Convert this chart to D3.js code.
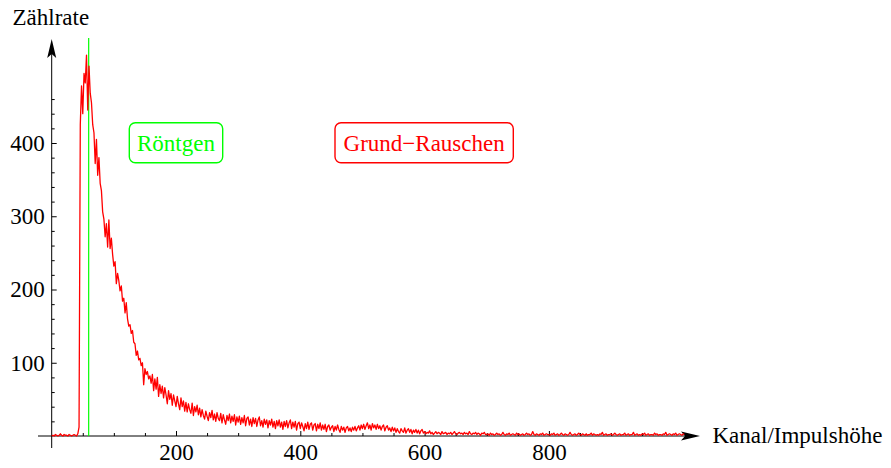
<!DOCTYPE html>
<html>
<head>
<meta charset="utf-8">
<script src="https://cdn.jsdelivr.net/npm/d3@7"></script>
<style>
  body { margin: 0; background: #fff; }
  svg { display: block; font-family: "Liberation Serif", "Times New Roman", serif; }
  .tick text { font-size: 23px; fill: #000; }
</style>
</head>
<body>
<svg width="891" height="468"></svg>
<script>
// Zählrate pro Kanal, jeder Wert steht für 2 Kanäle (0, 2, 4, ...)
var kanalSchritt = 2;
var zaehlrate = [
  0, 1, 0, 2, 1, 0, 1, 3, 1, 0,            // 0
  2, 1, 1, 0, 2, 1, 0, 1, 2, 1,            // 20
  0, 3, 12, 425, 478, 440, 495, 482, 520, 445, // 40
  505, 468, 455, 425, 414, 372, 405, 356, 380, 345, // 60
  335, 306, 296, 272, 290, 258, 295, 256, 270, 248, // 80
  232, 238, 208, 222, 212, 198, 205, 184, 188, 168, // 100
  182, 160, 150, 152, 140, 144, 128, 126, 110, 116, // 120
  104, 106, 96, 100, 70, 92, 84, 88, 78, 82,     // 140
  72, 84, 62, 78, 64, 80, 54, 70, 58, 68,        // 160
  52, 66, 56, 44, 62, 50, 58, 42, 56, 48,        // 180
  40, 54, 44, 36, 52, 40, 48, 34, 46, 33,        // 200
  44, 36, 31, 45, 28, 40, 33, 42, 29, 38,        // 220
  26, 36, 28, 23, 34, 27, 21, 32, 25, 35,        // 240
  22, 30, 20, 32, 24, 21, 31, 18, 29, 22,        // 260
  16, 28, 21, 30, 18, 27, 20, 29, 15, 26,        // 280
  19, 27, 16, 25, 18, 28, 14, 24, 26, 15,        // 300
  23, 13, 25, 17, 24, 13, 22, 26, 14, 21,        // 320
  12, 23, 16, 22, 11, 21, 15, 23, 12, 20,        // 340
  10, 21, 14, 22, 12, 19, 9, 20, 13, 21,         // 360
  11, 18, 22, 10, 19, 12, 20, 8, 17, 19,         // 380
  10, 18, 13, 7, 17, 10, 19, 9, 16, 18,          // 400
  8, 15, 17, 7, 16, 10, 18, 8, 15, 9,            // 420
  16, 6, 13, 15, 8, 12, 14, 6, 13, 8,            // 440
  15, 9, 5, 13, 8, 12, 5, 11, 13, 7,             // 460
  11, 6, 12, 8, 13, 7, 11, 14, 8, 15,            // 480
  10, 16, 9, 14, 18, 10, 15, 8, 17, 11,          // 500
  15, 9, 16, 10, 14, 8, 13, 15, 7, 12,           // 520
  14, 8, 11, 6, 12, 7, 11, 5, 10, 6,             // 540
  4, 10, 7, 5, 11, 4, 8, 10, 5, 9,               // 560
  3, 8, 5, 9, 4, 8, 3, 7, 9, 4,                  // 580
  6, 3, 5, 4, 7, 3, 5, 2, 4, 6,                  // 600
  3, 5, 4, 2, 6, 3, 4, 5, 2, 4,                  // 620
  3, 5, 2, 4, 6, 3, 2, 4, 5, 3,                  // 640
  4, 2, 5, 3, 4, 2, 6, 3, 2, 4,                  // 660
  3, 5, 2, 4, 3, 1, 4, 3, 5, 2,                  // 680
  2, 3, 1, 4, 2, 3, 1, 2, 4, 2,                  // 700
  3, 1, 2, 5, 2, 1, 3, 2, 4, 1,                  // 720
  2, 3, 2, 1, 4, 2, 3, 1, 2, 3,                  // 740
  1, 2, 4, 2, 3, 1, 2, 6, 2, 1,                  // 760
  3, 2, 1, 3, 2, 4, 1, 2, 3, 2,                  // 780
  2, 1, 3, 2, 4, 1, 2, 3, 1, 2,                  // 800
  4, 2, 1, 3, 2, 1, 2, 5, 2, 1,                  // 820
  2, 3, 1, 2, 4, 2, 1, 3, 2, 1,                  // 840
  3, 1, 2, 2, 4, 1, 3, 2, 1, 2,                  // 860
  1, 3, 2, 5, 1, 2, 3, 1, 2, 2,                  // 880
  3, 1, 2, 4, 2, 1, 2, 3, 1, 2,                  // 900
  2, 4, 1, 2, 3, 1, 2, 2, 5, 1,                  // 920
  2, 3, 1, 2, 1, 3, 2, 4, 1, 2,                  // 940
  3, 1, 2, 2, 1, 4, 2, 3, 1, 2,                  // 960
  2, 1, 3, 2, 5, 1, 2, 3, 2, 1,                  // 980
  3, 2, 4, 1, 2, 3, 2, 1, 3, 2                   // 1000
];

var roentgenKanal = 59.5;
var xTicks = [200, 400, 600, 800];
var xMinor = [50, 100, 150, 250, 300, 350, 450, 500, 550, 650, 700, 750, 850, 900, 950];
var yTicks = [100, 200, 300, 400];
var yMinor = [20, 40, 60, 80, 120, 140, 160, 180, 220, 240, 260, 280, 320, 340, 360, 380, 420, 440, 460];

var svg = d3.select("svg");

var x = d3.scaleLinear().domain([0, 1000]).range([51.7, 673.2]),
  y = d3.scaleLinear().domain([0, 400]).range([436, 143]);

var daten = zaehlrate.map(function (d, i) {
  return { kanal: i * kanalSchritt, wert: d };
});

// Achsenlinien mit Pfeilspitzen
svg.append("line")
  .attr("x1", 38).attr("x2", 690)
  .attr("y1", y(0)).attr("y2", y(0))
  .attr("stroke", "#000").attr("stroke-width", 1);
svg.append("line")
  .attr("x1", x(0)).attr("x2", x(0))
  .attr("y1", 448).attr("y2", 50)
  .attr("stroke", "#000").attr("stroke-width", 1);

svg.append("path")
  .attr("d", "M700," + y(0) + " L681,431.5 L685," + y(0) + " L681,440.5 Z")
  .attr("fill", "#000");
svg.append("path")
  .attr("d", "M" + x(0) + ",39 L" + (x(0) - 4.5) + ",58 L" + x(0) + ",54 L" + (x(0) + 4.5) + ",58 Z")
  .attr("fill", "#000");

// Ticks
var gx = svg.append("g")
  .attr("transform", "translate(0," + y(0) + ")")
  .call(d3.axisBottom(x).tickValues(xTicks).tickSizeInner(-5).tickSizeOuter(0).tickPadding(8));
var gxm = svg.append("g")
  .attr("transform", "translate(0," + y(0) + ")")
  .call(d3.axisBottom(x).tickValues(xMinor).tickSizeInner(-3).tickSizeOuter(0).tickFormat(""));
var gy = svg.append("g")
  .attr("transform", "translate(" + x(0) + ",0)")
  .call(d3.axisLeft(y).tickValues(yTicks).tickSizeInner(-5).tickSizeOuter(0).tickPadding(7));
var gym = svg.append("g")
  .attr("transform", "translate(" + x(0) + ",0)")
  .call(d3.axisLeft(y).tickValues(yMinor).tickSizeInner(-3).tickSizeOuter(0).tickFormat(""));

[gx, gxm, gy, gym].forEach(function (g) {
  g.select(".domain").remove();
  g.attr("font-family", null).attr("font-size", null);
  g.selectAll(".tick line").attr("stroke", "#000");
});

// Röntgen-Linie
svg.append("line")
  .attr("x1", x(roentgenKanal)).attr("x2", x(roentgenKanal))
  .attr("y1", 38).attr("y2", y(0))
  .attr("stroke", "#00ff00").attr("stroke-width", 1.2);

// Spektrum
var linie = d3.line()
  .x(function (d) { return x(d.kanal); })
  .y(function (d) { return y(d.wert); });

svg.append("path")
  .datum(daten)
  .attr("fill", "none")
  .attr("stroke", "#ff0000")
  .attr("stroke-width", 1.3)
  .attr("stroke-linejoin", "round")
  .attr("d", linie);

// Achsenbeschriftungen
svg.append("text")
  .attr("x", 12.5).attr("y", 25)
  .attr("font-size", 23)
  .text("Zählrate");
svg.append("text")
  .attr("x", 712.5).attr("y", 443)
  .attr("font-size", 23)
  .text("Kanal/Impulshöhe");

// Legenden-Kästen
function kasten(x0, x1, farbe, text) {
  svg.append("rect")
    .attr("x", x0).attr("y", 122.7)
    .attr("width", x1 - x0).attr("height", 40)
    .attr("rx", 6).attr("ry", 6)
    .attr("fill", "#fff")
    .attr("stroke", farbe)
    .attr("stroke-width", 1.4);
  svg.append("text")
    .attr("x", (x0 + x1) / 2).attr("y", 150.7)
    .attr("text-anchor", "middle")
    .attr("font-size", 23)
    .attr("fill", farbe)
    .text(text);
}
kasten(129.3, 222.7, "#00ff00", "Röntgen");
kasten(335, 513.3, "#ff0000", "Grund\u2212Rauschen");
</script>
</body>
</html>
